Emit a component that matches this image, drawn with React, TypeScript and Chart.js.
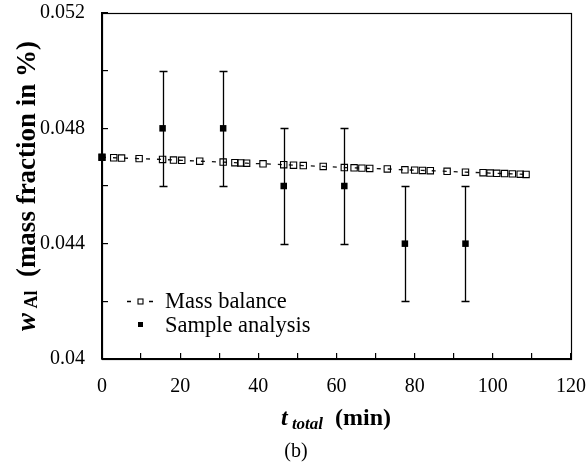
import React, { useEffect, useRef } from "react";
import { Chart, registerables } from "chart.js";

Chart.register(...registerables);

// Mass balance series (time in min, mass fraction in %)
const massTime = [0, 3, 5, 9.5, 15.5, 18.3, 20.4, 25, 31, 34, 35.5, 37, 41.2, 46.5, 49, 51.5, 56.6, 62, 64.5, 66.5, 68.5, 73, 77.5, 80, 82, 84, 88.3, 93, 97.5, 99.3, 101, 103, 105, 107, 108.5];
const massValue = [0.047, 0.04698, 0.04697, 0.04695, 0.04692, 0.0469, 0.04689, 0.04686, 0.04683, 0.04681, 0.0468, 0.04679, 0.04677, 0.04674, 0.04672, 0.04671, 0.04668, 0.04664, 0.04663, 0.04662, 0.04661, 0.04659, 0.04656, 0.04655, 0.04654, 0.04653, 0.04651, 0.04648, 0.04646, 0.04645, 0.04644, 0.04643, 0.04642, 0.04641, 0.0464];

// Sample analysis series with error
const sampleTime = [0, 15.5, 31, 46.5, 62, 77.5, 93];
const sampleValue = [0.047, 0.048, 0.048, 0.046, 0.046, 0.044, 0.044];
const sampleError = [0, 0.002, 0.002, 0.002, 0.002, 0.002, 0.002];

// Axis ticks
const xTickLabels = ["0", "20", "40", "60", "80", "100", "120"];
const yTickLabels = ["0.04", "0.044", "0.048", "0.052"];

const legendLabels = ["Mass balance", "Sample analysis"];

const SERIF = "'Liberation Serif', 'Times New Roman', serif";

type Run = { text: string; font: string; dy: number };

function drawRuns(ctx: CanvasRenderingContext2D, runs: Run[], cx: number, baseY: number) {
  let total = 0;
  const widths = runs.map((r) => {
    ctx.font = r.font;
    const w = ctx.measureText(r.text).width;
    total += w;
    return w;
  });
  let x = cx - total / 2;
  ctx.textAlign = "left";
  ctx.textBaseline = "alphabetic";
  runs.forEach((r, i) => {
    ctx.font = r.font;
    ctx.fillText(r.text, x, baseY + r.dy);
    x += widths[i];
  });
}

const decorPlugin = {
  id: "decor",
  afterDatasetsDraw(chart: any) {
    const { ctx, scales } = chart;
    const x = scales.x;
    const y = scales.y;
    ctx.save();
    ctx.strokeStyle = "#000";
    ctx.lineWidth = 1.3;
    sampleTime.forEach((t, i) => {
      const e = sampleError[i];
      if (!e) return;
      const px = Math.round(x.getPixelForValue(t)) + 0.5;
      const yt = Math.round(y.getPixelForValue(sampleValue[i] + e)) + 0.5;
      const yb = Math.round(y.getPixelForValue(sampleValue[i] - e)) + 0.5;
      ctx.beginPath();
      ctx.moveTo(px, yt);
      ctx.lineTo(px, yb);
      ctx.moveTo(px - 4, yt);
      ctx.lineTo(px + 4, yt);
      ctx.moveTo(px - 4, yb);
      ctx.lineTo(px + 4, yb);
      ctx.stroke();
    });
    ctx.restore();
  },
  afterDraw(chart: any) {
    const { ctx, chartArea: a } = chart;
    ctx.save();
    // frame
    ctx.strokeStyle = "#000";
    ctx.lineWidth = 1.2;
    ctx.strokeRect(Math.round(a.left) + 0.5, Math.round(a.top) + 0.5, Math.round(a.right - a.left), Math.round(a.bottom - a.top));

    ctx.fillStyle = "#000";
    // legend
    const lx = 140.5;
    const ly1 = 301.5;
    const ly2 = 324.5;
    ctx.lineWidth = 1.3;
    ctx.setLineDash([]);
    ctx.beginPath();
    ctx.moveTo(127, ly1);
    ctx.lineTo(131, ly1);
    ctx.moveTo(149, ly1);
    ctx.lineTo(153, ly1);
    ctx.stroke();
    ctx.lineWidth = 1.1;
    ctx.strokeRect(lx - 2.5, ly1 - 2.5, 5, 5);
    ctx.fillRect(lx - 2.5, ly2 - 2.5, 5, 5);
    ctx.font = `22.5px ${SERIF}`;
    ctx.textAlign = "left";
    ctx.textBaseline = "alphabetic";
    ctx.fillText(legendLabels[0], 165, 308);
    ctx.fillText(legendLabels[1], 165, 332);

    // x title
    drawRuns(
      ctx,
      [
        { text: "t", font: `italic bold 24px ${SERIF}`, dy: 0 },
        { text: " total", font: `italic bold 17px ${SERIF}`, dy: 4 },
        { text: "  (min)", font: `bold 24px ${SERIF}`, dy: 0 },
      ],
      336,
      425
    );
    // caption
    ctx.font = `20px ${SERIF}`;
    ctx.textAlign = "center";
    ctx.fillText("(b)", 296, 457);

    // y title
    ctx.save();
    ctx.translate(35, 186);
    ctx.rotate(-Math.PI / 2);
    drawRuns(
      ctx,
      [
        { text: "w", font: `italic bold 27px ${SERIF}`, dy: 0 },
        { text: " Al", font: `bold 18px ${SERIF}`, dy: 2 },
        { text: "  (mass fraction in %)", font: `bold 27px ${SERIF}`, dy: 0 },
      ],
      0,
      0
    );
    ctx.restore();
    ctx.restore();
  },
};

export default function App() {
  const canvasRef = useRef<HTMLCanvasElement | null>(null);

  useEffect(() => {
    document.body.style.margin = "0";
    const canvas = canvasRef.current;
    if (!canvas) return;
    const chart = new Chart(canvas, {
      type: "scatter",
      data: {
        datasets: [
          {
            label: legendLabels[1],
            data: sampleTime.map((t, i) => ({ x: t, y: sampleValue[i] })),
            showLine: false,
            pointStyle: "rect",
            pointRadius: 4.6,
            pointHoverRadius: 4.6,
            pointBackgroundColor: "#000",
            pointBorderColor: "#000",
            pointBorderWidth: 0,
            clip: false,
          },
          {
            label: legendLabels[0],
            data: massTime.map((t, i) => ({ x: t, y: massValue[i] })),
            showLine: true,
            borderColor: "#111",
            borderWidth: 1.3,
            borderDash: [4, 7],
            pointStyle: "rect",
            pointRadius: 4.5,
            pointHoverRadius: 4.5,
            pointBackgroundColor: "rgba(0,0,0,0)",
            pointBorderColor: "#000",
            pointBorderWidth: 1.1,
            clip: false,
          },
        ],
      },
      options: {
        animation: false,
        responsive: false,
        devicePixelRatio: 1,
        layout: { padding: { left: 0, top: 13, right: 16, bottom: 0 } },
        plugins: {
          legend: { display: false },
          tooltip: { enabled: false },
          title: { display: false },
        },
        scales: {
          x: {
            type: "linear",
            min: 0,
            max: 120,
            afterFit: (s: any) => {
              s.height = 115;
              s.paddingLeft = 0;
              s.paddingRight = 0;
            },
            afterBuildTicks: (s: any) => {
              const ticks = [];
              for (let v = 0; v <= 120; v += 10) ticks.push({ value: v });
              s.ticks = ticks;
            },
            ticks: {
              autoSkip: false,
              maxRotation: 0,
              padding: 22,
              color: "#000",
              font: { family: SERIF, size: 20 },
              callback: (v: any) => {
                const idx = xTickLabels.indexOf(String(v));
                return idx >= 0 ? xTickLabels[idx] : "";
              },
            },
            grid: { drawOnChartArea: false, drawTicks: true, tickLength: -6, color: "#000", lineWidth: 1.2 },
            border: { display: true, color: "#000", width: 1.2 },
          },
          y: {
            type: "linear",
            min: 0.04,
            max: 0.052,
            afterFit: (s: any) => {
              s.width = 102;
              s.paddingTop = 0;
              s.paddingBottom = 0;
            },
            afterBuildTicks: (s: any) => {
              const ticks = [];
              for (let k = 0; k <= 6; k++) ticks.push({ value: 0.04 + k * 0.002 });
              s.ticks = ticks;
            },
            ticks: {
              autoSkip: false,
              padding: 23,
              color: "#000",
              font: { family: SERIF, size: 20 },
              callback: (v: any, i: number) => (i % 2 === 0 ? yTickLabels[i / 2] : ""),
            },
            grid: { drawOnChartArea: false, drawTicks: true, tickLength: -6, color: "#000", lineWidth: 1.2 },
            border: { display: true, color: "#000", width: 1.2 },
          },
        },
      },
      plugins: [decorPlugin],
    });
    return () => chart.destroy();
  }, []);

  return (
    <div style={{ width: 587, height: 474, background: "#fff" }}>
      <canvas ref={canvasRef} width={587} height={474} style={{ display: "block" }} />
    </div>
  );
}
